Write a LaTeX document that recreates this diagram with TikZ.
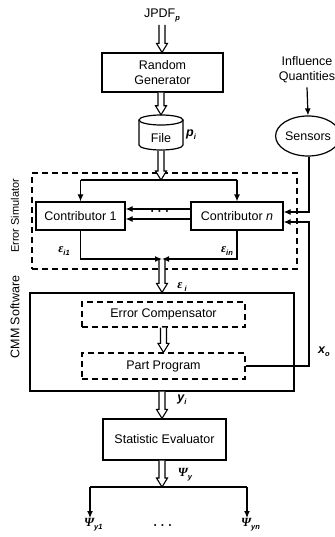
\documentclass[tikz,border=0pt]{standalone}
\usepackage{fontspec}
\setmainfont{Liberation Sans}
\newfontfamily\grk{Liberation Serif}
\usetikzlibrary{arrows.meta,shapes.geometric,calc}
% bold italic symbols and their small subscripts
\newcommand{\bv}[1]{{\bfseries\itshape #1}}
\newcommand{\gv}[1]{{\grk\bfseries\itshape #1}}
\newcommand{\lsub}[1]{\raisebox{-0.45ex}{\fontsize{7.5}{8}\selectfont\bfseries\itshape #1}}
\newcommand{\threedots}{·\hspace{3.5pt}·\hspace{3.5pt}·}

\begin{document}
\begin{tikzpicture}[x=1pt,y=-1pt,
  font=\fontsize{12.5}{15}\selectfont,
  box/.style={draw,line width=1.2pt,inner sep=0pt,align=center,fill=white},
  dbox/.style={draw,line width=1.2pt,inner sep=0pt,align=center,dash pattern=on 6pt off 4pt},
  % hollow block arrow pointing downwards
  flow/.style={draw,line width=1.1pt,fill=white,line join=miter,
    to path={let \p1=(\tikztostart), \p2=(\tikztotarget) in
      (\x1-3pt,\y1) -- (\x1-3pt,\y2+9pt) -- (\x1-5.5pt,\y2+9pt) -- (\x1,\y2)
      -- (\x1+5.5pt,\y2+9pt) -- (\x1+3pt,\y2+9pt) -- (\x1+3pt,\y1)}},
  sig/.style={draw,line width=1.2pt,-{Latex[length=7pt,width=6pt]}},
  wire/.style={draw,line width=1.2pt},
  lab/.style={inner sep=0pt},
  dotlab/.style={inner sep=0pt,font=\fontsize{12}{12}\bfseries\selectfont}
]
\useasboundingbox (0,0) rectangle (334,537);

% ---- source and generator
\node[lab] (jpdf) at (162,15) {JPDF\lsub{p}};
\node[box,minimum width=121pt,minimum height=39pt] (rg) at (162.5,72.5) {Random\\Generator};

% ---- file (cylinder)
\node[lab,minimum width=44pt,minimum height=36pt] (file) at (161,133) {};
\draw[line width=1.2pt,fill=white] (139,120) -- (139,145)
  arc[start angle=180,end angle=360,x radius=22pt,y radius=5pt] -- (183,120);
\draw[line width=1.2pt] (161,120) ellipse[x radius=22pt,y radius=5pt];
\node[lab] (filetxt) at (161,138) {File};
\node[lab] (pi) at (191,135) {\bv{p}\lsub{i}};

% ---- influence quantities and sensors
\node[lab,align=center] (iq) at (307,70) {Influence\\Quantities};
\node[draw,line width=1.2pt,ellipse,minimum width=54pt,minimum height=40pt,inner sep=0pt] (sens) at (308,136) {Sensors};

% ---- error simulator
\node[dbox,minimum width=265pt,minimum height=96pt] (es) at (164.5,221) {};
\node[lab,rotate=90,font=\fontsize{11}{13}\selectfont] (esl) at (15,216) {Error Simulator};
\node[box,minimum width=89pt,minimum height=28pt] (c1) at (80.5,216) {Contributor 1};
\node[box,minimum width=92pt,minimum height=28pt] (cn) at (237,216) {Contributor \textit{n}};
\node[dotlab] (dots1) at (160,213) {\threedots};

\coordinate (sp) at (162,180);
\coordinate (m) at (162,259);
\coordinate (s1) at (309,212);
\coordinate (xo2) at (309,222);

\node[lab] (e1) at (64,251) {\gv{ε}\lsub{i1}};
\node[lab] (en) at (227,251) {\gv{ε}\lsub{in}};
\node[lab] (ei) at (182,287) {\gv{ε}\,\lsub{i}};

% ---- CMM software
\node[box,fill=none,minimum width=264pt,minimum height=98pt] (cmm) at (162,342) {};
\node[lab,rotate=90] (cmml) at (15,317) {CMM Software};
\node[dbox,minimum width=163pt,minimum height=25pt] (ec) at (163.5,314.5) {Error Compensator};
\node[dbox,minimum width=163pt,minimum height=26pt] (pp) at (163.5,366) {Part Program};
\node[lab] (xo) at (324,352) {\bv{x}\lsub{o}};

% ---- statistics
\node[lab] (yi) at (182,400) {\bv{y}\lsub{i}};
\node[box,minimum width=123pt,minimum height=41pt] (se) at (164.5,439.5) {Statistic Evaluator};
\node[lab] (psy) at (185,475) {\gv{Ψ}\lsub{y}};
\coordinate (b) at (162,487);
\coordinate (o1) at (90,487);
\coordinate (o2) at (247,487);
\node[lab,anchor=north west] (py1) at (84,518) {\gv{Ψ}\lsub{y1}};
\node[dotlab] (dots2) at (163,527) {\threedots};
\node[lab,anchor=north west] (pyn) at (241,518) {\gv{Ψ}\lsub{yn}};

% ---- main flow
\draw[flow] (jpdf.south |- 0,25) to (jpdf.south |- rg.north);
\draw[flow] (rg.south -| file.north) to (file.north);
\draw[wire] (c1.north |- sp) -- (cn.north |- sp);
\draw[flow] (file.south) to (sp);
\draw[sig] (c1.north |- sp) -- (c1.north);
\draw[sig] (cn.north |- sp) -- (cn.north);
\draw[sig] ([yshift=7pt]cn.west) -- ([yshift=7pt]c1.east);
\draw[sig] ([yshift=-3pt]cn.west) -- ([yshift=-3pt]c1.east);
\draw[flow] (m) to (cmm.north);
\draw[sig] (c1.south) |- (m);
\draw[sig] (cn.south) |- (m);
\draw[flow] (ec.south) to (ec.south |- pp.north);
\draw[flow] (cmm.south) to (cmm.south |- se.north);
\draw[wire] (o1) -- (o2);
\draw[flow] (se.south -| b) to (b);
\draw[sig] (o1) -- (o1 |- py1.north);
\draw[sig] (o2) -- (o2 |- pyn.north);

% ---- feedback paths
\draw[sig] ([yshift=-4pt]iq.south) -- (sens.north);
\draw[sig] (sens.south -| s1) -- (s1) -- ([yshift=4pt]cn.east);
\draw[sig] (pp.east) -| (xo2) -- ([yshift=-6pt]cn.east);
\end{tikzpicture}
\end{document}
